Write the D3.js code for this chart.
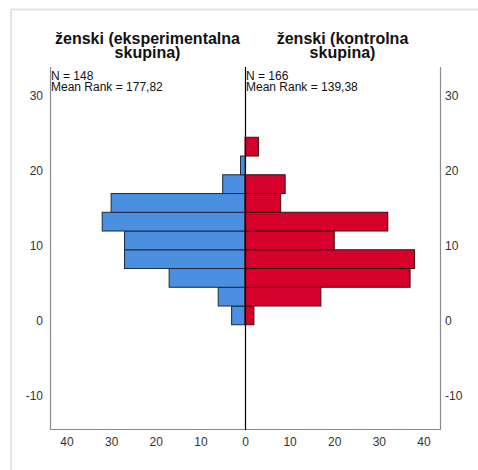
<!DOCTYPE html>
<html>
<head>
  <meta charset="utf-8">
  <title>Histogram</title>
  <style>
    body { margin: 0; background: #fff; }
    text { font-family: "Liberation Sans", Arial, sans-serif; }
  </style>
</head>
<body>
  <svg width="478" height="470"></svg>
  <script src="https://d3js.org/d3.v7.min.js"></script>
  <script>
  // bin edges (lower bound of each bin)
  var binStart = [-0.5, 2, 4.5, 7, 9.5, 12, 14.5, 17, 19.5, 22];
  var binWidth = 2.5;
  // frequencies per bin
  var leftCounts = [3, 6, 17, 27, 27, 32, 30, 5, 1, 0];
  var rightCounts = [2, 17, 37, 38, 20, 32, 8, 9, 0, 3];
  var leftTitle = ["ženski (eksperimentalna", "skupina)"];
  var rightTitle = ["ženski (kontrolna", "skupina)"];
  var leftStats = ["N = 148", "Mean Rank = 177,82"];
  var rightStats = ["N = 166", "Mean Rank = 139,38"];
  var yTicks = [-10, 0, 10, 20, 30];
  var xTicks = [0, 10, 20, 30, 40];

  var svg = d3.select("svg");
  // plot area (note: "top" is reserved on window, so use pTop)
  var pLeft = 50, pRight = 440, pMid = 245, pTop = 67, pBottom = 429;

  // outer frame (top and left only)
  svg.append("line").attr("x1", 11).attr("x2", 478).attr("y1", 9.5).attr("y2", 9.5)
    .attr("stroke", "#e4e4e4").attr("stroke-width", 2);
  svg.append("line").attr("x1", 11).attr("x2", 11).attr("y1", 9).attr("y2", 470)
    .attr("stroke", "#e4e4e4").attr("stroke-width", 2);

  var y = d3.scaleLinear().domain([-14.4, 33.87]).range([pBottom, pTop]);
  var xl = d3.scaleLinear().domain([0, 43.7]).range([pMid, pLeft]);
  var xr = d3.scaleLinear().domain([0, 43.7]).range([pMid, pRight]);

  var bins = binStart.map(function(b, i) {
    return { lo: b, hi: b + binWidth, l: leftCounts[i], r: rightCounts[i] };
  });

  // blue bars
  svg.append("g").selectAll("rect")
    .data(bins.filter(function(d) { return d.l > 0; }))
    .enter().append("rect")
    .attr("x", function(d) { return xl(d.l); })
    .attr("y", function(d) { return y(d.hi); })
    .attr("width", function(d) { return xl(0) - xl(d.l); })
    .attr("height", function(d) { return y(d.lo) - y(d.hi); })
    .attr("fill", "#4a8fe0")
    .attr("stroke", "#1f2a3a").attr("stroke-width", 1);

  // red bars
  svg.append("g").selectAll("rect")
    .data(bins.filter(function(d) { return d.r > 0; }))
    .enter().append("rect")
    .attr("x", xr(0))
    .attr("y", function(d) { return y(d.hi); })
    .attr("width", function(d) { return xr(d.r) - xr(0); })
    .attr("height", function(d) { return y(d.lo) - y(d.hi); })
    .attr("fill", "#d5002b")
    .attr("stroke", "#3a1010").attr("stroke-width", 1);

  // frame lines
  svg.append("path")
    .attr("d", "M" + (pLeft + 0.5) + "," + pTop + "V" + (pBottom + 0.5) + "H" + (pRight + 0.5) + "V" + pTop)
    .attr("fill", "none").attr("stroke", "#8a8a8a").attr("stroke-width", 1.2);
  svg.append("line").attr("x1", pMid + 0.5).attr("x2", pMid + 0.5).attr("y1", pTop).attr("y2", pBottom + 1)
    .attr("stroke", "#000").attr("stroke-width", 1.2);

  // plain hyphen for negatives, like the original
  var fmt = function(d) { return String(d); };

  // y axes
  svg.append("g").attr("transform", "translate(" + (pLeft - 7) + ",0)")
    .call(d3.axisLeft(y).tickValues(yTicks).tickFormat(fmt).tickSize(0).tickPadding(0));
  svg.append("g").attr("transform", "translate(" + (pRight + 5) + ",0)")
    .call(d3.axisRight(y).tickValues(yTicks).tickFormat(fmt).tickSize(0).tickPadding(0));

  // x axes
  svg.append("g").attr("transform", "translate(0," + (pBottom + 8) + ")")
    .call(d3.axisBottom(xl).tickValues(xTicks.slice(1)).tickFormat(fmt).tickSize(0).tickPadding(0));
  svg.append("g").attr("transform", "translate(0," + (pBottom + 8) + ")")
    .call(d3.axisBottom(xr).tickValues(xTicks).tickFormat(fmt).tickSize(0).tickPadding(0));

  svg.selectAll(".domain").remove();
  svg.selectAll(".tick text")
    .attr("font-family", "'Liberation Sans', Arial, sans-serif")
    .attr("font-size", 12).attr("fill", "#333");

  // titles
  function title(lines, cx) {
    svg.append("text").attr("x", cx).attr("y", 43.5)
      .attr("text-anchor", "middle").attr("font-size", 16).attr("font-weight", "bold")
      .attr("fill", "#111")
      .selectAll("tspan").data(lines).enter().append("tspan")
      .attr("x", cx).attr("dy", function(d, i) { return i ? 14.5 : 0; })
      .text(function(d) { return d; });
  }
  title(leftTitle, (pLeft + pMid) / 2);
  title(rightTitle, (pMid + pRight) / 2);

  // stats
  function stats(lines, x0) {
    svg.append("text").attr("x", x0).attr("y", 80)
      .attr("font-size", 12).attr("fill", "#111")
      .selectAll("tspan").data(lines).enter().append("tspan")
      .attr("x", x0).attr("dy", function(d, i) { return i ? 11 : 0; })
      .text(function(d) { return d; });
  }
  stats(leftStats, pLeft + 1);
  stats(rightStats, pMid + 1);
  </script>
</body>
</html>
